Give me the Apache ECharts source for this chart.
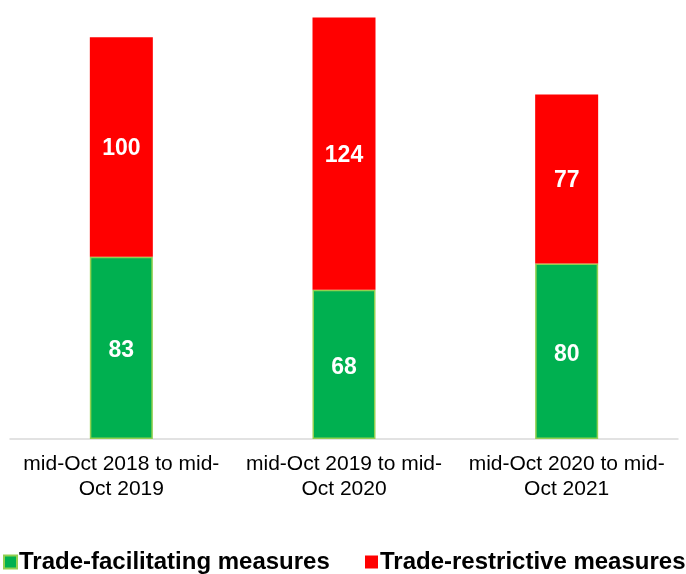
<!DOCTYPE html>
<html>
<head>
<meta charset="utf-8">
<script src="https://cdn.jsdelivr.net/npm/echarts@6/dist/echarts.min.js"></script>
<style>
html,body{margin:0;padding:0;background:#fff;}
#chart{width:686px;height:574px;}
</style>
</head>
<body>
<div id="chart"></div>
<script>
const categories = ['mid-Oct 2018 to mid-\nOct 2019', 'mid-Oct 2019 to mid-\nOct 2020', 'mid-Oct 2020 to mid-\nOct 2021'];
const facilitating = [83, 68, 80];
const restrictive = [100, 124, 77];
const seriesNames = ['Trade-facilitating measures', 'Trade-restrictive measures'];

const chart = echarts.init(document.getElementById('chart'), null, {renderer: 'canvas'});
const valueLabel = {
  show: true,
  position: 'inside',
  color: '#fff',
  fontFamily: 'Liberation Sans, Arial, sans-serif',
  fontWeight: 'bold',
  fontSize: 23
};
const legendBase = {
  top: 550,
  itemWidth: 13,
  itemHeight: 13,
  icon: 'rect',
  padding: 0,
  textStyle: {
    fontFamily: 'Liberation Sans, Arial, sans-serif',
    fontWeight: 'bold',
    fontSize: 24,
    color: '#000',
    padding: [0, 0, 0, -3]
  }
};
chart.setOption({
  animation: false,
  backgroundColor: '#fff',
  grid: {left: 10, right: 8, top: 0, bottom: 135},
  legend: [
    Object.assign({}, legendBase, {left: 3, data: [seriesNames[0]]}),
    Object.assign({}, legendBase, {left: 365, data: [seriesNames[1]]})
  ],
  xAxis: {
    type: 'category',
    data: categories,
    axisTick: {show: false},
    axisLine: {lineStyle: {color: '#D9D9D9', width: 1.5}},
    axisLabel: {
      margin: 13,
      color: '#000',
      fontFamily: 'Liberation Sans, Arial, sans-serif',
      fontSize: 21,
      lineHeight: 25,
      interval: 0
    }
  },
  yAxis: {
    type: 'value',
    min: 0,
    max: 200,
    show: false,
    splitLine: {show: false}
  },
  series: [
    {
      name: seriesNames[0],
      type: 'bar',
      stack: 'total',
      barWidth: 63,
      data: facilitating,
      itemStyle: {color: '#00B050', borderColor: '#92D050', borderWidth: 1.5},
      label: Object.assign({}, valueLabel, {offset: [0, 3]})
    },
    {
      name: seriesNames[1],
      type: 'bar',
      stack: 'total',
      barWidth: 63,
      data: restrictive,
      itemStyle: {color: '#FF0000'},
      label: Object.assign({}, valueLabel, {offset: [0, 2]})
    }
  ]
});
</script>
</body>
</html>
